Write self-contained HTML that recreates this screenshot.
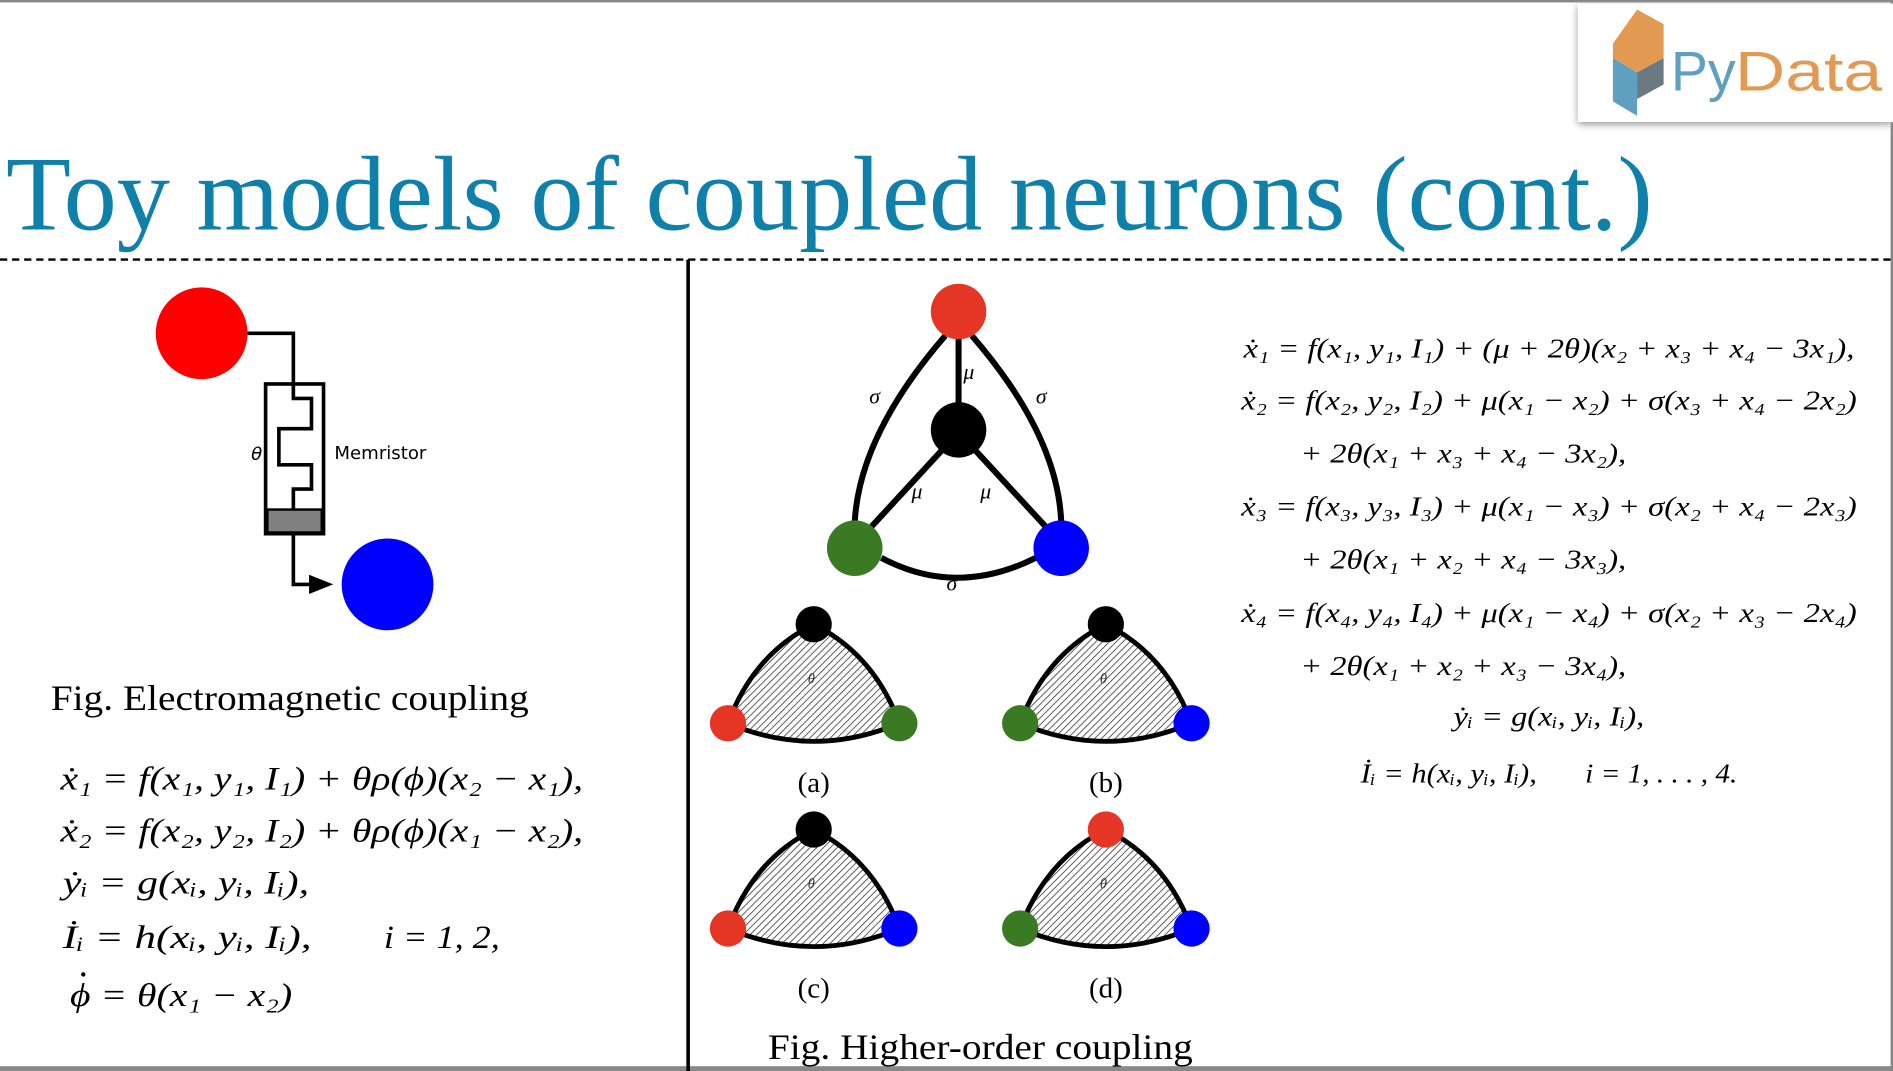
<!DOCTYPE html>
<html><head><meta charset="utf-8"><style>
html,body{margin:0;padding:0;background:#fff;overflow:hidden}
svg{display:block}
.eq{font-family:"Liberation Serif",serif;font-style:italic}
</style></head><body>
<svg width="1893" height="1071" viewBox="0 0 1568 887" preserveAspectRatio="none" xmlns="http://www.w3.org/2000/svg">
<defs>
<pattern id="h" width="4" height="4" patternUnits="userSpaceOnUse" patternTransform="rotate(45)">
<rect width="4" height="4" fill="#fff"/><line x1="0" y1="0" x2="0" y2="4" stroke="#333" stroke-width="1.3"/>
</pattern>
<filter id="sh" x="-10%" y="-10%" width="120%" height="130%"><feDropShadow dx="0" dy="2" stdDeviation="3" flood-color="#999"/></filter>
<g id="tri"><path d="M-71,82 Q-50,25 0,0 Q50,25 71,82 Q0,112 -71,82 Z" fill="url(#h)" stroke="#000" stroke-width="4"/>
<text x="-2" y="49" font-family="Liberation Serif" font-style="italic" font-size="12" fill="#333" text-anchor="middle">θ</text></g>
</defs>
<rect x="0" y="0" width="1568" height="887" fill="#fff"/>
<rect x="0" y="0" width="1568" height="2" fill="#888"/>
<rect x="0" y="883" width="1568" height="4" fill="#888"/>
<rect x="1566" y="0" width="2" height="887" fill="#888"/>
<!-- logo -->
<rect x="1307" y="3" width="261" height="98" fill="#fff" filter="url(#sh)"/>
<polygon points="1356,8 1378,20 1378,48 1356,60 1336,48 1336,36" fill="#e29a53"/>
<polygon points="1336,48 1356,60 1356,96 1336,84" fill="#5f9fbf"/>
<polygon points="1356,60 1378,48 1378,70 1356,82" fill="#6a7a82"/>
<text x="1384" y="75" font-family="Liberation Sans,sans-serif" font-size="46" fill="#5f9fbf">Py</text>
<text x="1437" y="75" font-family="Liberation Sans,sans-serif" font-size="46" fill="#e29a53" textLength="122" lengthAdjust="spacingAndGlyphs">Data</text>
<!-- title -->
<text x="5" y="190" font-family="Liberation Serif,serif" font-size="88" fill="#0f80aa" textLength="1364" lengthAdjust="spacingAndGlyphs">Toy models of coupled neurons (cont.)</text>
<line x1="0" y1="215" x2="1568" y2="215" stroke="#000" stroke-width="2" stroke-dasharray="6,4"/>
<line x1="570" y1="215" x2="570" y2="887" stroke="#000" stroke-width="3"/>
<!-- left figure -->
<circle cx="167" cy="276" r="38" fill="#f00"/>
<circle cx="321" cy="484" r="38" fill="#00f"/>
<polyline points="205,276 243,276 243,330 258,330 258,355 231,355 231,385 258,385 258,405 243,405 243,422" fill="none" stroke="#000" stroke-width="3"/>
<rect x="220" y="318" width="48" height="124" fill="none" stroke="#000" stroke-width="3"/>
<rect x="221.5" y="422" width="45" height="19" fill="#808080" stroke="#000" stroke-width="2"/>
<polyline points="243,442 243,484 270,484" fill="none" stroke="#000" stroke-width="3"/>
<polygon points="256,476 276,484 256,492" fill="#000"/>
<text x="208" y="381" font-family="DejaVu Sans,sans-serif" font-style="italic" font-size="15">θ</text>
<text x="277" y="380" font-family="DejaVu Sans,sans-serif" font-size="15">Memristor</text>
<text x="42" y="588" font-family="Liberation Serif,serif" font-size="30" textLength="396" lengthAdjust="spacingAndGlyphs">Fig. Electromagnetic coupling</text>
<g class="eq" font-size="27">
<text x="50" y="654" textLength="433" lengthAdjust="spacingAndGlyphs">ẋ₁ = f(x₁, y₁, I₁) + θρ(ϕ)(x₂ − x₁),</text>
<text x="50" y="697" textLength="433" lengthAdjust="spacingAndGlyphs">ẋ₂ = f(x₂, y₂, I₂) + θρ(ϕ)(x₁ − x₂),</text>
<text x="52" y="740" textLength="204" lengthAdjust="spacingAndGlyphs">ẏᵢ = g(xᵢ, yᵢ, Iᵢ),</text>
<text x="52" y="785" textLength="206" lengthAdjust="spacingAndGlyphs">İᵢ = h(xᵢ, yᵢ, Iᵢ),</text>
<text x="318" y="785" textLength="96" lengthAdjust="spacingAndGlyphs">i = 1, 2,</text>
<text x="58" y="833" textLength="184" lengthAdjust="spacingAndGlyphs">ϕ = θ(x₁ − x₂)</text>
</g>
<circle cx="69" cy="807" r="1.8" fill="#000"/>
<!-- right figure -->
<g fill="none" stroke="#000" stroke-width="5">
<path d="M783,278 Q712,360 708,432"/>
<path d="M805,278 Q876,360 879,432"/>
<path d="M730,462 Q792,495 858,462"/>
<line x1="794" y1="280" x2="794" y2="334"/>
<line x1="781" y1="372" x2="722" y2="436"/>
<line x1="807" y1="372" x2="866" y2="436"/>
</g>
<circle cx="794" cy="258" r="23" fill="#e53524"/>
<circle cx="794" cy="356" r="23" fill="#000"/>
<circle cx="708" cy="454" r="23" fill="#3a7a22"/>
<circle cx="879" cy="454" r="23" fill="#00f"/>
<g font-family="Liberation Serif,serif" font-style="italic" font-size="18">
<text x="798" y="314">μ</text><text x="720" y="334">σ</text><text x="858" y="334">σ</text>
<text x="755" y="413">μ</text><text x="812" y="413">μ</text><text x="784" y="489">σ</text>
</g>
<use href="#tri" x="674" y="517"/><use href="#tri" x="916" y="517"/>
<use href="#tri" x="674" y="687"/><use href="#tri" x="916" y="687"/>
<circle cx="674" cy="517" r="15" fill="#000"/><circle cx="603" cy="599" r="15" fill="#e53524"/><circle cx="745" cy="599" r="15" fill="#3a7a22"/>
<circle cx="916" cy="517" r="15" fill="#000"/><circle cx="845" cy="599" r="15" fill="#3a7a22"/><circle cx="987" cy="599" r="15" fill="#00f"/>
<circle cx="674" cy="687" r="15" fill="#000"/><circle cx="603" cy="769" r="15" fill="#e53524"/><circle cx="745" cy="769" r="15" fill="#00f"/>
<circle cx="916" cy="687" r="15" fill="#e53524"/><circle cx="845" cy="769" r="15" fill="#3a7a22"/><circle cx="987" cy="769" r="15" fill="#00f"/>
<g font-family="Liberation Serif,serif" font-size="24" text-anchor="middle">
<text x="674" y="656">(a)</text><text x="916" y="656">(b)</text>
<text x="674" y="826">(c)</text><text x="916" y="826">(d)</text>
</g>
<text x="636" y="877" font-family="Liberation Serif,serif" font-size="30" textLength="352" lengthAdjust="spacingAndGlyphs">Fig. Higher-order coupling</text>
<g class="eq" font-size="23">
<text x="1030" y="296" textLength="506" lengthAdjust="spacingAndGlyphs">ẋ₁ = f(x₁, y₁, I₁) + (μ + 2θ)(x₂ + x₃ + x₄ − 3x₁),</text>
<text x="1028" y="339" textLength="510" lengthAdjust="spacingAndGlyphs">ẋ₂ = f(x₂, y₂, I₂) + μ(x₁ − x₂) + σ(x₃ + x₄ − 2x₂)</text>
<text x="1077" y="383" textLength="270" lengthAdjust="spacingAndGlyphs">+ 2θ(x₁ + x₃ + x₄ − 3x₂),</text>
<text x="1028" y="427" textLength="510" lengthAdjust="spacingAndGlyphs">ẋ₃ = f(x₃, y₃, I₃) + μ(x₁ − x₃) + σ(x₂ + x₄ − 2x₃)</text>
<text x="1077" y="471" textLength="270" lengthAdjust="spacingAndGlyphs">+ 2θ(x₁ + x₂ + x₄ − 3x₃),</text>
<text x="1028" y="515" textLength="510" lengthAdjust="spacingAndGlyphs">ẋ₄ = f(x₄, y₄, I₄) + μ(x₁ − x₄) + σ(x₂ + x₃ − 2x₄)</text>
<text x="1077" y="559" textLength="270" lengthAdjust="spacingAndGlyphs">+ 2θ(x₁ + x₂ + x₃ − 3x₄),</text>
<text x="1204" y="601" textLength="158" lengthAdjust="spacingAndGlyphs">ẏᵢ = g(xᵢ, yᵢ, Iᵢ),</text>
<text x="1127" y="648" textLength="146" lengthAdjust="spacingAndGlyphs">İᵢ = h(xᵢ, yᵢ, Iᵢ),</text>
<text x="1313" y="648" textLength="126" lengthAdjust="spacingAndGlyphs">i = 1, . . . , 4.</text>
</g>
</svg>
</body></html>
